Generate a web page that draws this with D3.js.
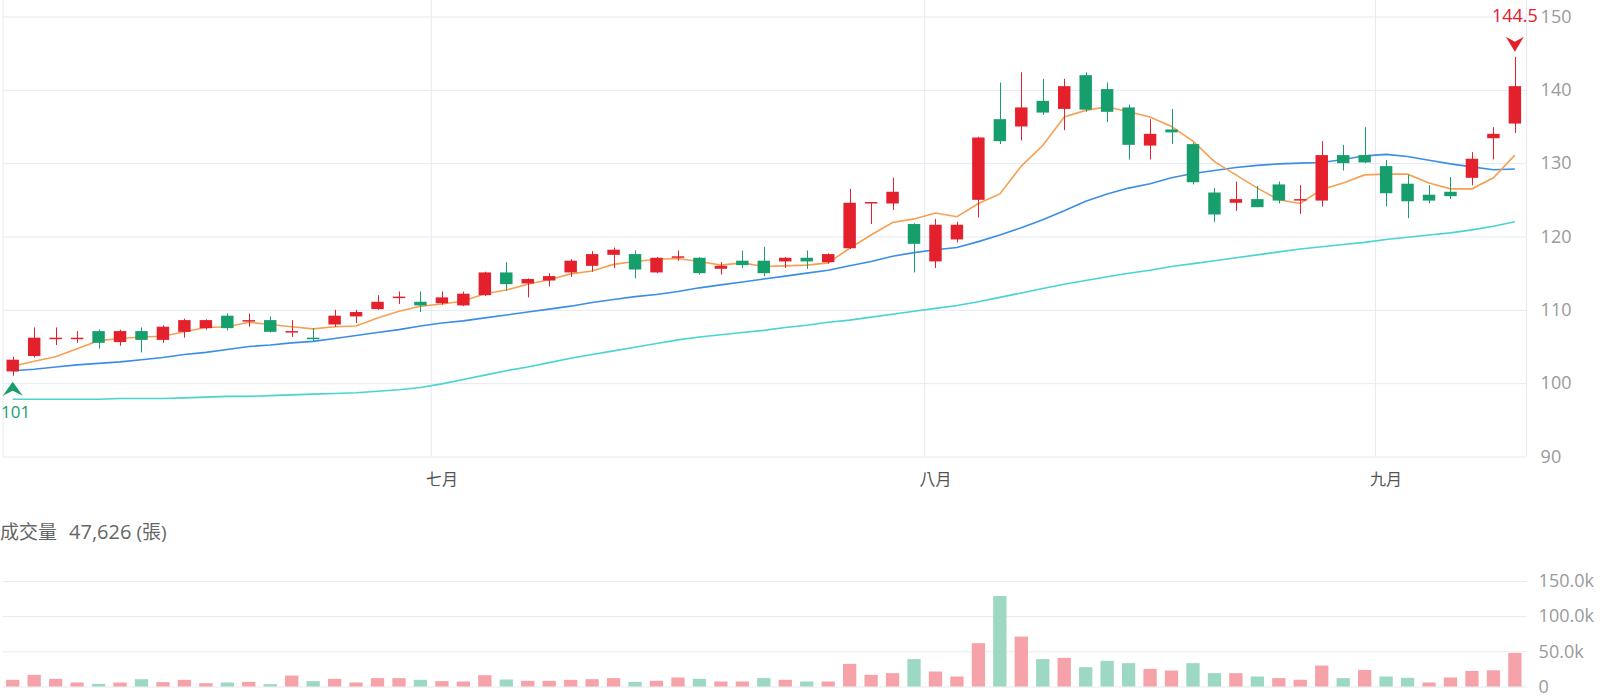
<!DOCTYPE html>
<html>
<head>
<meta charset="utf-8">
<script src="https://cdn.jsdelivr.net/npm/d3@7"></script>
<style>
  body { margin: 0; background: #fff; }
  text { font-family: "Open Sans", "Noto Sans CJK TC", sans-serif; }
</style>
</head>
<body>
<div class="chart"></div>
<script>
// Daily prices, one entry per trading day
var opens = [101.6, 103.7, 106.0, 106.0, 107.1, 105.6, 107.1, 105.9, 107.0, 107.5,
  109.2, 108.4, 108.6, 106.9, 106.2, 108.0, 109.1, 110.1, 111.6, 111.1,
  110.9, 110.6, 112.0, 115.1, 113.6, 114.0, 115.1, 116.0, 117.5, 117.6,
  115.1, 117.1, 117.1, 115.6, 116.7, 116.7, 116.6, 117.1, 116.5, 118.4,
  124.5, 124.5, 121.7, 116.6, 119.6, 125.0, 136.0, 135.0, 138.5, 137.4,
  142.0, 140.1, 137.6, 132.4, 134.6, 132.6, 126.0, 124.6, 125.1, 127.1,
  124.9, 124.9, 131.1, 131.1, 129.6, 127.2, 125.7, 126.1, 128.0, 133.4, 135.4];
var highs = [103.6, 107.6, 107.6, 107.1, 107.3, 107.3, 107.6, 107.9, 108.8, 108.7,
  109.5, 109.5, 109.1, 108.6, 107.5, 110.0, 110.0, 112.0, 112.5, 112.5,
  112.5, 112.5, 115.2, 116.5, 114.3, 115.0, 116.9, 118.0, 118.5, 118.1,
  117.2, 118.1, 117.2, 116.5, 118.1, 118.6, 117.2, 118.1, 117.7, 126.5,
  124.7, 128.0, 121.8, 122.4, 122.0, 133.6, 141.0, 142.4, 141.5, 141.5,
  142.4, 141.0, 138.0, 136.0, 137.4, 132.8, 126.6, 127.5, 126.9, 127.5,
  127.0, 133.0, 132.5, 134.9, 130.4, 128.4, 127.0, 128.1, 131.5, 134.9, 144.5];
var lows = [101.0, 103.5, 105.2, 105.5, 104.7, 105.1, 104.2, 105.5, 106.2, 107.3,
  107.2, 107.7, 106.9, 106.3, 105.7, 107.7, 108.2, 110.0, 110.8, 109.7,
  110.7, 110.5, 111.9, 112.6, 111.7, 113.2, 114.5, 115.2, 115.7, 114.3,
  115.0, 116.7, 114.8, 114.8, 115.7, 114.6, 115.7, 115.6, 116.3, 118.3,
  121.7, 123.6, 115.1, 115.7, 119.2, 122.6, 132.6, 133.1, 136.6, 134.5,
  137.0, 135.6, 130.5, 130.5, 132.6, 127.1, 122.0, 123.5, 124.0, 124.5,
  123.1, 124.1, 129.0, 130.0, 124.1, 122.5, 124.5, 125.1, 127.0, 130.5, 134.1];
var closes = [103.2, 106.2, 106.2, 106.2, 105.5, 107.1, 105.9, 107.7, 108.6, 108.6,
  107.5, 108.6, 107.0, 107.1, 106.0, 109.2, 109.7, 111.1, 111.8, 110.6,
  111.7, 112.2, 115.1, 113.5, 114.2, 114.6, 116.7, 117.6, 118.2, 115.5,
  117.1, 117.3, 115.0, 116.0, 116.1, 115.0, 117.1, 116.6, 117.6, 124.6,
  124.7, 126.1, 119.0, 121.6, 121.6, 133.5, 133.0, 137.6, 136.9, 140.5,
  137.3, 137.0, 132.5, 134.0, 134.2, 127.4, 123.0, 125.1, 124.0, 124.9,
  125.1, 131.1, 130.0, 130.1, 125.9, 124.8, 124.9, 125.5, 130.6, 134.0, 140.5];

// Volume in 張
var volumes = [9500, 16600, 10900, 5700, 3800, 5700, 10400, 6200, 9500, 4700,
  5700, 6600, 3300, 15600, 7600, 10900, 5700, 11900, 11900, 9500,
  7600, 7100, 16100, 10000, 8100, 8100, 9500, 10400, 11900, 6600,
  8100, 12800, 10900, 7100, 7100, 11900, 9500, 7100, 7100, 32200,
  16600, 19000, 38900, 21300, 14200, 61600, 128700, 71000, 38900, 40700,
  27500, 36500, 33200, 25100, 22700, 33200, 19000, 19000, 14200, 11900,
  9500, 29800, 11900, 23600, 14200, 12300, 5700, 12800, 22200, 23100, 47626];

// Moving averages as drawn on the chart
var ma5 = [102.3, 103.0, 103.6, 104.7, 105.8, 106.1, 106.3, 106.4, 107.0, 107.6,
  107.7, 108.3, 108.0, 107.7, 107.4, 107.7, 107.8, 108.9, 109.8, 110.5,
  110.8, 111.2, 112.2, 112.7, 113.5, 114.1, 114.9, 115.3, 116.2, 116.6,
  116.9, 117.0, 116.6, 116.1, 116.4, 115.9, 116.0, 116.1, 116.4, 118.4,
  120.2, 121.9, 122.4, 123.2, 122.7, 124.5, 125.8, 129.6, 132.4, 136.3,
  137.2, 137.7, 137.0, 136.3, 135.0, 133.0, 130.2, 128.4, 126.6, 125.0,
  124.5, 126.4, 127.3, 128.4, 128.5, 128.5, 127.3, 126.5, 126.5, 128.0, 131.1];
var ma20 = [101.7, 101.9, 102.2, 102.5, 102.7, 102.9, 103.2, 103.5, 103.9, 104.2,
  104.6, 105.0, 105.2, 105.5, 105.7, 106.1, 106.5, 106.9, 107.3, 107.8,
  108.2, 108.5, 108.9, 109.3, 109.7, 110.1, 110.5, 111.0, 111.4, 111.8,
  112.1, 112.5, 113.0, 113.4, 113.8, 114.2, 114.6, 115.0, 115.4, 116.0,
  116.6, 117.3, 117.8, 118.2, 118.5, 119.3, 120.2, 121.2, 122.3, 123.5,
  124.8, 125.8, 126.6, 127.2, 128.0, 128.6, 129.0, 129.4, 129.7, 129.9,
  130.0, 130.1, 130.5, 131.0, 131.2, 130.9, 130.4, 129.9, 129.5, 129.1, 129.2];
var ma60 = [97.8, 97.8, 97.8, 97.8, 97.8, 97.9, 97.9, 97.9, 98.0, 98.1,
  98.2, 98.2, 98.3, 98.4, 98.5, 98.6, 98.7, 98.9, 99.1, 99.4,
  99.9, 100.5, 101.1, 101.7, 102.2, 102.8, 103.4, 103.9, 104.4, 104.9,
  105.4, 105.9, 106.3, 106.6, 106.9, 107.2, 107.6, 107.9, 108.3, 108.6,
  109.0, 109.4, 109.8, 110.2, 110.6, 111.1, 111.7, 112.3, 112.9, 113.5,
  114.0, 114.5, 115.0, 115.4, 115.9, 116.3, 116.7, 117.1, 117.5, 117.9,
  118.3, 118.6, 118.9, 119.2, 119.6, 119.9, 120.2, 120.5, 120.9, 121.4, 122.0];

var monthLabels = ["七月", "八月", "九月"];
var monthStarts = [20, 43, 64]; // first trading day of each month
var priceTicks = [90, 100, 110, 120, 130, 140, 150];
var volumeTicks = [0, 50000, 100000, 150000];
var volumeTitle = "成交量";
var volumeUnit = "(張)";

// Set up the chart
//= ================================
var svgWidth = 1600;
var svgHeight = 700;

var plotLeft = 2;
var plotRight = 1525.6;
var priceTop = 16.5;
var priceBottom = 456.5;
var volTop = 581;
var volBottom = 686.5;

var upColor = "#e3202c";
var downColor = "#179e6d";
var volUpColor = "#f5a3a8";
var volDownColor = "#9dd8c3";
var gridColor = "#e6e9f2";

var svg = d3
  .select(".chart")
  .append("svg")
  .attr("width", svgWidth)
  .attr("height", svgHeight);

var days = d3.range(closes.length);

// Scales
var xScale = d3.scaleBand().domain(days).range([plotLeft, plotRight]);
var yPrice = d3.scaleLinear().domain([90, 150]).range([priceBottom, priceTop]);
var yVol = d3.scaleLinear().domain([0, 150000]).range([volBottom, volTop]);

var bw = xScale.bandwidth();
function cx(i) {
  return xScale(i) + bw / 2;
}

// Price axis on the right, ticks stretched into gridlines
var priceAxis = d3
  .axisRight(yPrice)
  .tickValues(priceTicks)
  .tickSize(-(plotRight - plotLeft))
  .tickPadding(14);

svg
  .append("g")
  .attr("class", "price-axis")
  .attr("transform", "translate(" + (plotRight + 1) + ",0)")
  .call(priceAxis)
  .call(function(g) {
    g.select(".domain").remove();
    g.selectAll(".tick line").attr("stroke", gridColor);
    g.selectAll(".tick text")
      .attr("fill", "#9a9a9a")
      .style("font-size", "18px");
  });

// Frame of the price panel
svg
  .append("line")
  .attr("x1", plotRight + 1).attr("x2", plotRight + 1)
  .attr("y1", 0).attr("y2", priceBottom)
  .attr("stroke", gridColor);
svg
  .append("line")
  .attr("x1", 3).attr("x2", 3)
  .attr("y1", 0).attr("y2", priceBottom)
  .attr("stroke", gridColor);

// Month gridlines sit on the band edge, the label on the first candle of the month
var months = svg.append("g").attr("class", "months");
months
  .selectAll("line")
  .data(monthStarts)
  .enter()
  .append("line")
  .attr("x1", function(d) { return xScale(d); })
  .attr("x2", function(d) { return xScale(d); })
  .attr("y1", 0)
  .attr("y2", priceBottom)
  .attr("stroke", gridColor);
months
  .selectAll("text")
  .data(monthStarts)
  .enter()
  .append("text")
  .attr("x", function(d) { return cx(d); })
  .attr("y", priceBottom + 28)
  .attr("text-anchor", "middle")
  .attr("fill", "#555")
  .style("font-size", "16px")
  .text(function(d, i) { return monthLabels[i]; });

// Moving average lines
function maLine(values) {
  return d3
    .line()
    .x(function(d, i) { return cx(i); })
    .y(function(d) { return yPrice(d); })(values);
}
[[ma60, "#48d4cf"], [ma20, "#3b8ee5"], [ma5, "#f5a052"]].forEach(function(s) {
  svg
    .append("path")
    .attr("d", maLine(s[0]))
    .attr("fill", "none")
    .attr("stroke", s[1])
    .attr("stroke-width", 1.6);
});

// Candles
var bodyW = bw * 0.58;
var candles = svg
  .selectAll(".candle")
  .data(days)
  .enter()
  .append("g")
  .attr("class", "candle")
  .attr("fill", function(i) { return closes[i] >= opens[i] ? upColor : downColor; })
  .attr("stroke", function(i) { return closes[i] >= opens[i] ? upColor : downColor; });

candles
  .append("line")
  .attr("x1", function(i) { return Math.round(cx(i)) + 0.5; })
  .attr("x2", function(i) { return Math.round(cx(i)) + 0.5; })
  .attr("y1", function(i) { return yPrice(highs[i]); })
  .attr("y2", function(i) { return yPrice(lows[i]); })
  .attr("stroke-width", 1);

candles
  .append("rect")
  .attr("x", function(i) { return cx(i) - bodyW / 2; })
  .attr("width", bodyW)
  .attr("y", function(i) { return yPrice(Math.max(opens[i], closes[i])); })
  .attr("height", function(i) {
    return Math.max(1.5, Math.abs(yPrice(opens[i]) - yPrice(closes[i])));
  })
  .attr("stroke", "none");

// Highest and lowest markers
var hi = d3.maxIndex(highs);
var lo = d3.minIndex(lows);

svg
  .append("path")
  .attr("transform", "translate(" + cx(hi) + "," + (yPrice(highs[hi]) - 5) + ")")
  .attr("d", "M-9,-15L0,-10L9,-15L0,0Z")
  .attr("fill", upColor);
svg
  .append("text")
  .attr("x", cx(hi))
  .attr("y", 22)
  .attr("text-anchor", "middle")
  .attr("fill", upColor)
  .style("font-size", "18px")
  .text(highs[hi]);

svg
  .append("path")
  .attr("transform", "translate(" + cx(lo) + "," + (yPrice(lows[lo]) + 6) + ")")
  .attr("d", "M-10,14L0,9L10,14L0,0Z")
  .attr("fill", downColor);
svg
  .append("text")
  .attr("x", 1)
  .attr("y", yPrice(lows[lo]) + 42)
  .attr("text-anchor", "start")
  .attr("fill", downColor)
  .style("font-size", "17px")
  .text(lows[lo]);

// Volume title
var title = svg
  .append("text")
  .attr("x", 0)
  .attr("y", 539)
  .attr("fill", "#666")
  .style("font-size", "19px");
title.append("tspan").text(volumeTitle);
title.append("tspan").attr("dx", 12).style("font-size", "20px")
  .text(d3.format(",")(volumes[volumes.length - 1]));
title.append("tspan").attr("dx", 5).text(volumeUnit);

// Volume axis and gridlines
var volAxis = d3
  .axisRight(yVol)
  .tickValues(volumeTicks)
  .tickSize(-(plotRight - plotLeft))
  .tickPadding(12)
  .tickFormat(function(d) { return d === 0 ? "0" : d3.format(".1f")(d / 1000) + "k"; });

svg
  .append("g")
  .attr("class", "vol-axis")
  .attr("transform", "translate(" + (plotRight + 1) + ",0)")
  .call(volAxis)
  .call(function(g) {
    g.select(".domain").remove();
    g.selectAll(".tick line").attr("stroke", gridColor);
    g.selectAll(".tick text")
      .attr("fill", "#9a9a9a")
      .style("font-size", "18px");
  });

// Volume bars, coloured by change against the previous close
var volW = bw * 0.62;
svg
  .selectAll(".vol")
  .data(days)
  .enter()
  .append("rect")
  .attr("class", "vol")
  .attr("x", function(i) { return cx(i) - volW / 2; })
  .attr("width", volW)
  .attr("y", function(i) { return yVol(volumes[i]); })
  .attr("height", function(i) { return volBottom - yVol(volumes[i]); })
  .attr("fill", function(i) {
    return i === 0 || closes[i] >= closes[i - 1] ? volUpColor : volDownColor;
  });
</script>
</body>
</html>
